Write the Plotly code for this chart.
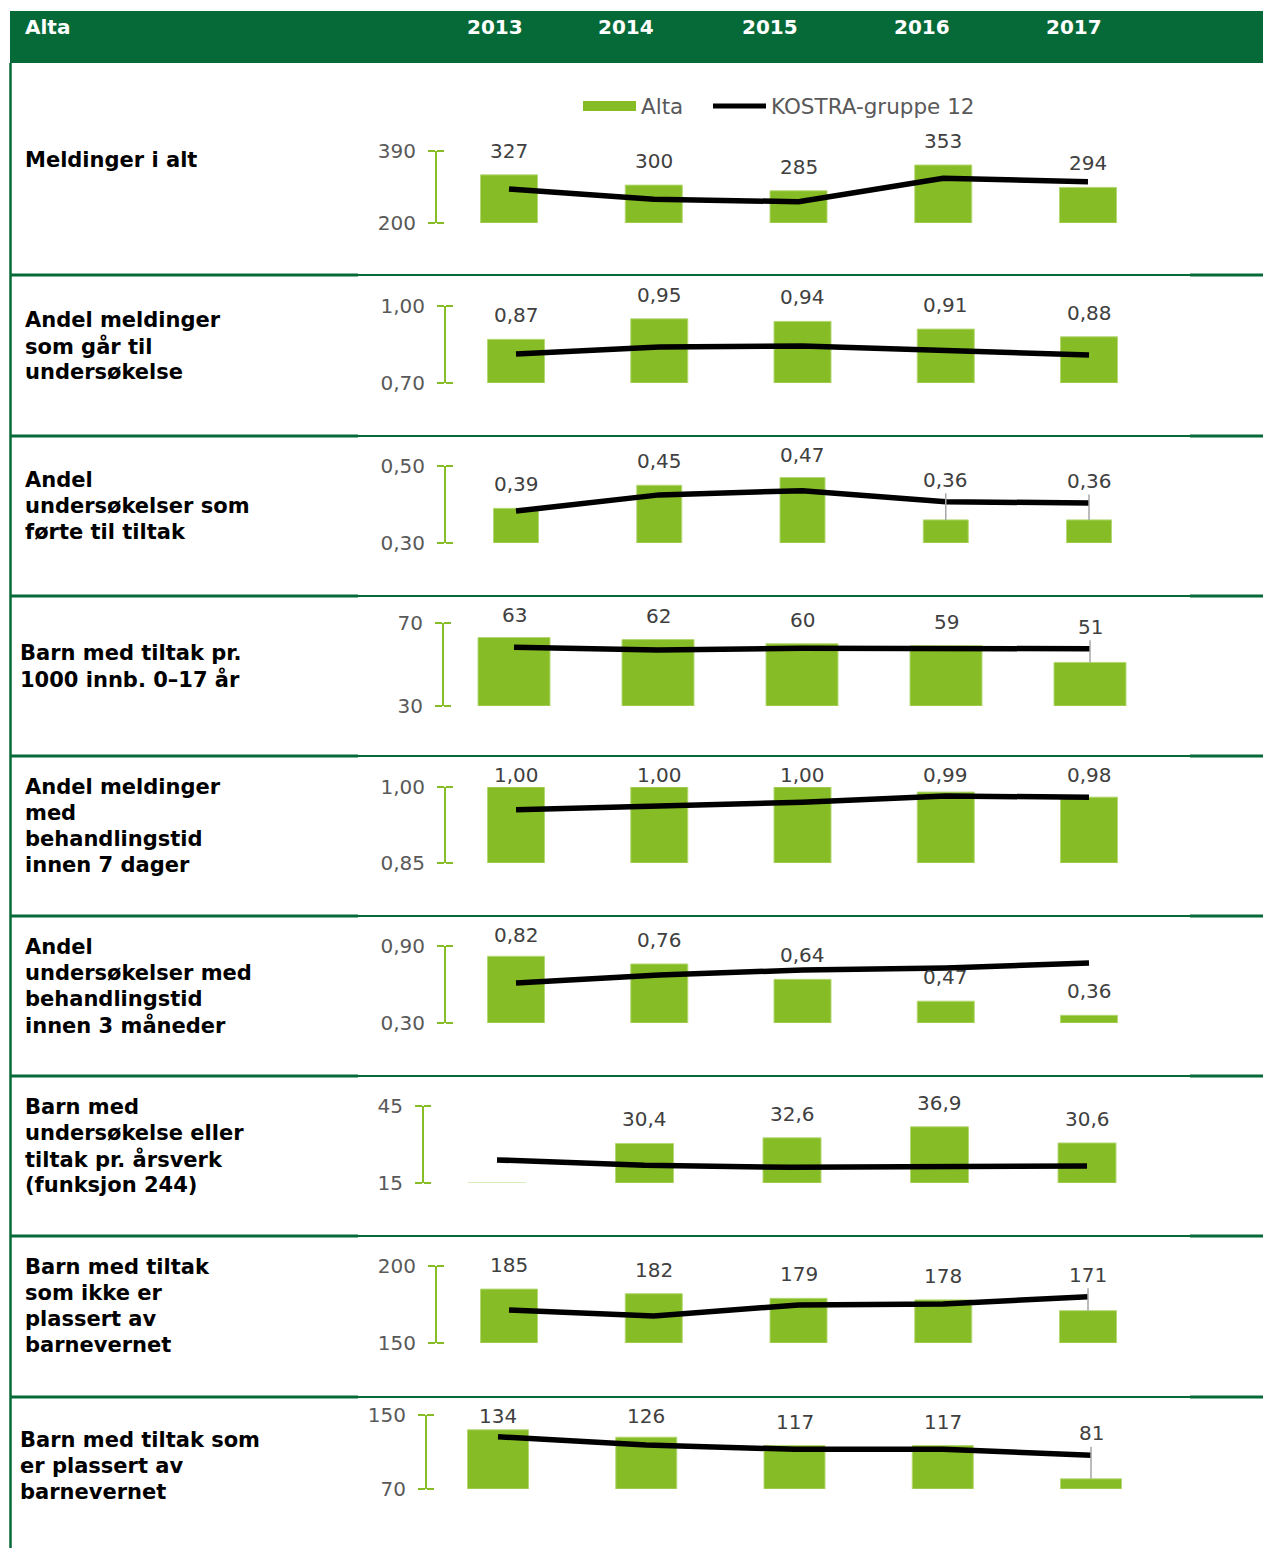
import plotly.graph_objects as go

# ---------------- data ----------------
years = ["2013", "2014", "2015", "2016", "2017"]
header_title = "Alta"
series_names = ["Alta", "KOSTRA-gruppe 12"]

indicators = [
    "Meldinger i alt",
    "Andel meldinger<br>som går til<br>undersøkelse",
    "Andel<br>undersøkelser som<br>førte til tiltak",
    "Barn med tiltak pr.<br>1000 innb. 0–17 år",
    "Andel meldinger<br>med<br>behandlingstid<br>innen 7 dager",
    "Andel<br>undersøkelser med<br>behandlingstid<br>innen 3 måneder",
    "Barn med<br>undersøkelse eller<br>tiltak pr. årsverk<br>(funksjon 244)",
    "Barn med tiltak<br>som ikke er<br>plassert av<br>barnevernet",
    "Barn med tiltak som<br>er plassert av<br>barnevernet",
]

alta_meldinger = [327, 300, 285, 353, 294]
kostra_meldinger = [290, 263, 256, 318, 309]
alta_andel_undersokelse = [0.87, 0.95, 0.94, 0.91, 0.88]
kostra_andel_undersokelse = [0.813, 0.840, 0.844, 0.825, 0.809]
alta_andel_tiltak = [0.39, 0.45, 0.47, 0.36, 0.36]
kostra_andel_tiltak = [0.383, 0.425, 0.436, 0.407, 0.404]
alta_tiltak_per_1000 = [63, 62, 60, 59, 51]
kostra_tiltak_per_1000 = [58.3, 57.0, 57.8, 57.8, 57.6]
alta_behandling_7d = [1.00, 1.00, 1.00, 0.99, 0.98]
kostra_behandling_7d = [0.955, 0.962, 0.970, 0.982, 0.980]
alta_behandling_3m = [0.82, 0.76, 0.64, 0.47, 0.36]
kostra_behandling_3m = [0.612, 0.674, 0.713, 0.729, 0.768]
alta_per_arsverk = [0, 30.4, 32.6, 36.9, 30.6]
kostra_per_arsverk = [24.0, 21.9, 21.1, 21.2, 21.6]
alta_ikke_plassert = [185, 182, 179, 178, 171]
kostra_ikke_plassert = [171.4, 167.5, 174.7, 175.3, 180.1]
alta_plassert = [134, 126, 117, 117, 81]
kostra_plassert = [126.5, 117.6, 112.9, 112.9, 106.4]

alta_series = [alta_meldinger, alta_andel_undersokelse, alta_andel_tiltak,
               alta_tiltak_per_1000, alta_behandling_7d, alta_behandling_3m,
               alta_per_arsverk, alta_ikke_plassert, alta_plassert]
kostra_series = [kostra_meldinger, kostra_andel_undersokelse, kostra_andel_tiltak,
                 kostra_tiltak_per_1000, kostra_behandling_7d, kostra_behandling_3m,
                 kostra_per_arsverk, kostra_ikke_plassert, kostra_plassert]

axis_min = [200, 0.70, 0.30, 30, 0.85, 0.30, 15, 150, 70]
axis_max = [390, 1.00, 0.50, 70, 1.00, 0.90, 45, 200, 150]
value_decimals = [0, 2, 2, 0, 2, 2, 1, 0, 0]
tick_decimals = [0, 2, 2, 0, 2, 2, 0, 0, 0]

# ---------------- layout / style ----------------
W, H = 1263, 1548
DARK_GREEN = "#066A38"
BAR_GREEN = "#86BC25"
FONT = "DejaVu Sans"
LABEL_LINE = 26  # line spacing of the indicator labels, px

# pixel geometry of each panel: tick top/bottom, first bar centre, bar step,
# bar width, axis x, top separator, label x, label centre
panels = [
    dict(top=151, bot=223, c0=509, step=144.75, barw=57, ax=436, sep=63, lx=23, ly=160),
    dict(top=306, bot=383, c0=516, step=143.25, barw=57, ax=445, sep=275, lx=23, ly=346),
    dict(top=466, bot=543, c0=516, step=143.25, barw=45, ax=445, sep=436, lx=23, ly=506),
    dict(top=623, bot=706, c0=514, step=144.0, barw=72, ax=443, sep=596, lx=18, ly=666),
    dict(top=787, bot=863, c0=516, step=143.25, barw=57, ax=445, sep=756, lx=23, ly=826),
    dict(top=946, bot=1023, c0=516, step=143.25, barw=57, ax=445, sep=916, lx=23, ly=986),
    dict(top=1106, bot=1183, c0=497, step=147.5, barw=58, ax=423, sep=1076, lx=23, ly=1146),
    dict(top=1266, bot=1343, c0=509, step=144.75, barw=57, ax=436, sep=1236, lx=23, ly=1306),
    dict(top=1415, bot=1489, c0=498, step=148.25, barw=61, ax=426, sep=1397, lx=18, ly=1466),
]
separators = [275, 436, 596, 756, 916, 1076, 1236, 1397]
year_x = [495, 626, 770, 922, 1074]


def fx(p):
    return p / W


def fy(p):
    return 1 - p / H


def fmt(v, d):
    return f"{v:.{d}f}".replace(".", ",")


legend_style = dict(orientation="h", y=fy(106), xanchor="left", yanchor="middle",
                    font=dict(family=FONT, size=21.5, color="#595959"),
                    bgcolor="rgba(0,0,0,0)", itemwidth=53)

fig = go.Figure()
layout = dict(
    width=W, height=H, autosize=False,
    margin=dict(l=0, r=0, t=0, b=0, autoexpand=False),
    paper_bgcolor="white", plot_bgcolor="rgba(0,0,0,0)",
    font=dict(family=FONT, size=20, color="#595959"),
    showlegend=True,
    legend=dict(x=fx(578), **legend_style),
    legend2=dict(x=fx(708), **legend_style),
)
annotations = []
shapes = []

xpos = list(range(len(years)))

for k, p in enumerate(panels):
    n = k + 1
    xa = "xaxis" if n == 1 else f"xaxis{n}"
    ya = "yaxis" if n == 1 else f"yaxis{n}"
    xr = "x" if n == 1 else f"x{n}"
    yr = "y" if n == 1 else f"y{n}"
    ya_tw = f"yaxis{n + 9}"
    yr_tw = f"y{n + 9}"
    lo, hi = axis_min[k], axis_max[k]
    left = p["c0"] - p["step"] / 2
    right = p["c0"] + 4.5 * p["step"]
    ydom = [fy(p["bot"]), fy(p["top"])]

    layout[xa] = dict(domain=[fx(left), fx(right)], range=[-0.5, 4.5], anchor=yr,
                      visible=False, fixedrange=True)
    ticks = [lo, hi]
    ticktext = [fmt(t, tick_decimals[k]) for t in ticks]
    layout[ya] = dict(domain=ydom, range=[lo, hi],
                      anchor="free", position=fx(p["ax"]),
                      showline=True, linecolor=BAR_GREEN, linewidth=2,
                      ticks="outside", ticklen=7, tickwidth=2, tickcolor=BAR_GREEN,
                      tickvals=ticks, ticktext=ticktext, ticklabelstandoff=8,
                      tickfont=dict(family=FONT, size=20, color="#595959"),
                      showgrid=False, zeroline=False, fixedrange=True)
    # twin axis on the same line: its right-side ticks complete the I-beam;
    # the KOSTRA line is plotted on it (same domain and range as the bars)
    layout[ya_tw] = dict(domain=ydom, range=[lo, hi], anchor="free",
                         position=fx(p["ax"]), side="right", showline=False,
                         ticks="outside", ticklen=7, tickwidth=2, tickcolor=BAR_GREEN,
                         tickvals=ticks, showticklabels=False,
                         showgrid=False, zeroline=False, fixedrange=True)

    alta = alta_series[k]
    kostra = kostra_series[k]

    fig.add_trace(go.Bar(
        x=xpos, y=[v - lo for v in alta], base=lo,
        width=p["barw"] / p["step"],
        marker=dict(color=BAR_GREEN, line=dict(color="#B4D873", width=1)),
        xaxis=xr, yaxis=yr, showlegend=False, hoverinfo="skip",
    ))
    fig.add_trace(go.Scatter(
        x=xpos, y=kostra, mode="lines",
        line=dict(color="black", width=5.5),
        xaxis=xr, yaxis=yr_tw, showlegend=False, hoverinfo="skip", cliponaxis=False,
    ))

    # value labels
    ppu = (p["bot"] - p["top"]) / (hi - lo)
    for i, (v, kv) in enumerate(zip(alta, kostra)):
        if v < lo:
            continue
        bar_px = p["bot"] - (v - lo) * ppu
        line_px = p["bot"] - (kv - lo) * ppu
        gap = bar_px - line_px
        leader = 12 < gap < 30
        cy = (line_px - 22) if leader else (bar_px - 24)
        cy = max(cy, p["sep"] + 19)
        common = dict(x=i, y=v, xref=xr, yref=yr, text=fmt(v, value_decimals[k]),
                      font=dict(family=FONT, size=20, color="#404040"))
        if leader:
            annotations.append(dict(**common, showarrow=True, ax=0, ay=cy - bar_px,
                                    arrowhead=0, arrowwidth=1.5, arrowcolor="#A6A6A6",
                                    standoff=0, startstandoff=0))
        else:
            annotations.append(dict(**common, showarrow=False, yanchor="middle",
                                    yshift=bar_px - cy))

    # indicator label, one annotation per line
    lines = indicators[k].split("<br>")
    for j, line in enumerate(lines):
        cy = p["ly"] + (j - (len(lines) - 1) / 2) * LABEL_LINE
        annotations.append(dict(
            x=fx(p["lx"]), y=fy(cy), xref="paper", yref="paper",
            xanchor="left", yanchor="middle", align="left", showarrow=False,
            text=f"<b>{line}</b>",
            font=dict(family=FONT, size=21, color="black"),
        ))

# legend entries
fig.add_trace(go.Scatter(x=[None], y=[None], mode="lines", name=series_names[0],
                         line=dict(color=BAR_GREEN, width=10), xaxis="x", yaxis="y",
                         legend="legend"))
fig.add_trace(go.Scatter(x=[None], y=[None], mode="lines", name=series_names[1],
                         line=dict(color="black", width=5), xaxis="x", yaxis="y",
                         legend="legend2"))

# header band
shapes.append(dict(type="rect", xref="paper", yref="paper",
                   x0=fx(10), x1=1, y0=fy(63), y1=fy(11),
                   fillcolor=DARK_GREEN, line=dict(width=0), layer="below"))
annotations.append(dict(x=fx(23), y=fy(27), xref="paper", yref="paper",
                        xanchor="left", yanchor="middle", showarrow=False,
                        text=f"<b>{header_title}</b>",
                        font=dict(family=FONT, size=20, color="white")))
for yx, yt in zip(year_x, years):
    annotations.append(dict(x=fx(yx), y=fy(27), xref="paper", yref="paper",
                            xanchor="center", yanchor="middle", showarrow=False,
                            text=f"<b>{yt}</b>",
                            font=dict(family=FONT, size=20, color="white")))

# left border and row separators
shapes.append(dict(type="line", xref="paper", yref="paper",
                   x0=fx(10.5), x1=fx(10.5), y0=fy(63), y1=0,
                   line=dict(color=DARK_GREEN, width=2.5)))
for s in separators:
    for x0, x1, w in [(10, 358, 3), (358, 1190, 2), (1190, W, 3)]:
        shapes.append(dict(type="line", xref="paper", yref="paper",
                           x0=fx(x0), x1=fx(x1), y0=fy(s), y1=fy(s),
                           line=dict(color=DARK_GREEN, width=w)))

layout["annotations"] = annotations
layout["shapes"] = shapes
fig.update_layout(**layout)

fig.write_html("out.html")
